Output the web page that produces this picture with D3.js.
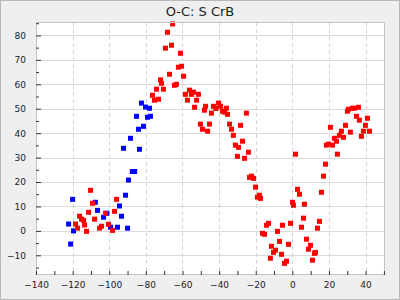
<!DOCTYPE html>
<html>
<head>
<meta charset="utf-8">
<script src="https://cdn.jsdelivr.net/npm/d3@7"></script>
<style>
  body { margin: 0; background: #efefef; }
  svg { display: block; }
  text { font-family: "DejaVu Sans", sans-serif; fill: #222; }
</style>
</head>
<body>
<div id="d3-container"></div>
<script>
/**
 * CONSTANTS AND GLOBALS
 * */
const width = 400,
    height = 300,
    margin = { top: 22, bottom: 25, left: 36, right: 15 },
    markerSize = 5;

const title = "O-C: S CrB";

// x tick labels every 20, minor ticks every 10
const xMajorTicks = [-140, -120, -100, -80, -60, -40, -20, 0, 20, 40];
const xMinorTicks = [-130, -110, -90, -70, -50, -30, -10, 10, 30, 50];
// y tick labels every 10, minor ticks every 5
const yMajorTicks = [-10, 0, 10, 20, 30, 40, 50, 60, 70, 80];
const yMinorTicks = [-15, -5, 5, 15, 25, 35, 45, 55, 65, 75, 85];

/**
 * DATA  ([epoch offset, O-C])
 * */
const blueOC = [
    [-87.4, 24.3], [-86.1, 24.3], [-89.5, 20.8], [-91.1, 14.6], [-94.4, 10.2],
    [-107.6, 11.7], [-120.0, 12.9], [-106.4, 8.4], [-93.3, 6.0], [-101.3, 7.2],
    [-103.1, 5.6], [-122.2, 2.8], [-119.5, 0.0], [-99.3, 1.5], [-95.5, 1.5],
    [-90.0, 1.1], [-121.1, -5.4], [-82.4, 52.3], [-80.2, 50.7], [-78.0, 50.2],
    [-85.1, 46.9], [-77.5, 46.9], [-79.1, 46.5], [-81.3, 42.8], [-84.0, 41.6],
    [-88.4, 37.9], [-92.2, 33.8], [-83.5, 33.4]
];

const redOC = [
    // early cluster
    [-110.2, 16.6], [-109.1, 11.3], [-96.0, 12.9], [-111.3, 7.6], [-97.1, 8.0],
    [-102.0, 7.2], [-116.2, 6.0], [-115.1, 4.8], [-114.0, 4.3], [-108.0, 4.8],
    [-113.5, 2.4], [-118.4, 2.8], [-117.3, 1.1], [-112.4, -0.2], [-105.3, 1.1],
    [-104.2, 1.9], [-100.4, 2.7], [-98.2, 0.2],
    // rising arm and peak
    [-72.0, 61.8], [-71.5, 60.4], [-74.2, 58.0], [-70.4, 58.0], [-64.4, 59.6],
    [-63.3, 60.0], [-76.4, 55.5], [-75.3, 53.5], [-73.1, 53.9], [-59.4, 63.3],
    [-65.4, 84.7], [-68.2, 81.3], [-66.0, 76.0], [-69.3, 74.8], [-61.1, 72.7],
    [-62.2, 67.0], [-60.5, 67.4], [-67.1, 64.1],
    // plateau
    [-58.4, 55.9], [-56.2, 57.6], [-55.1, 55.9], [-54.0, 56.8], [-51.3, 55.9],
    [-57.3, 53.5], [-52.3, 53.5], [-53.4, 50.6], [-47.4, 51.0], [-48.0, 49.4],
    [-44.2, 48.2], [-43.1, 51.0], [-41.7, 50.1], [-40.3, 52.3], [-39.2, 51.0],
    [-38.2, 49.0], [-37.1, 48.6], [-36.0, 50.2], [-35.4, 47.7],
    // falling arm
    [-25.1, 48.2], [-50.2, 43.7], [-45.3, 43.7], [-49.1, 41.6], [-46.3, 40.8],
    [-34.3, 43.7], [-28.3, 43.2], [-33.2, 41.6], [-32.2, 39.1], [-27.2, 36.7],
    [-31.1, 35.1], [-29.4, 34.2], [-24.0, 32.2], [-30.0, 30.5], [-26.1, 29.7],
    [-23.4, 21.9], [-22.3, 22.4], [-21.2, 21.5], [-20.1, 17.9], [-18.0, 14.6],
    [-19.1, 13.8], [-17.4, 13.3],
    // minimum
    [1.7, 31.4], [2.8, 17.0], [3.9, 15.0], [0.1, 11.7], [0.6, 10.5], [6.6, 10.9],
    [15.9, 15.8], [17.0, 22.4], [18.1, 27.3], [6.1, 5.2], [14.8, 3.9],
    [-13.0, 3.1], [-14.1, 2.3], [-5.4, 2.3], [-1.0, 3.1], [5.0, 1.5], [13.7, 1.1],
    [-8.1, -0.2], [-16.3, -1.0], [-15.2, -1.4],
    [-7.0, -4.3], [-2.1, -5.5], [-11.4, -6.3], [-9.2, -7.9], [-10.3, -8.8],
    [-5.9, -9.6], [-12.0, -11.2], [-3.2, -12.4], [-4.3, -13.3], [7.7, -3.4],
    [9.9, -5.9], [8.8, -7.5], [12.6, -8.8], [12.1, -9.2], [11.0, -12.0],
    // recovery
    [30.1, 49.0], [30.6, 49.8], [32.8, 50.2], [33.9, 50.2], [36.1, 50.6],
    [35.0, 46.9], [36.6, 45.3], [41.0, 46.1], [39.9, 43.2], [20.8, 42.4],
    [29.0, 43.2], [26.8, 40.8], [31.7, 40.4], [38.8, 40.8], [42.1, 40.8],
    [37.7, 38.7], [25.7, 39.1], [27.9, 38.3], [23.0, 37.9], [24.1, 36.7],
    [18.6, 35.1], [19.7, 35.5], [21.9, 35.1], [24.6, 31.4]
];

/**
 * DRAW
 * */
const svg = d3.select("#d3-container")
    .append("svg")
    .attr("width", width)
    .attr("height", height);

// outer frame
svg.append("rect")
    .attr("x", 0.5).attr("y", 0.5)
    .attr("width", width - 1).attr("height", height - 1)
    .attr("fill", "#efefef")
    .attr("stroke", "#b8b8b8");

const x = d3.scaleLinear()
    .domain([-140, 50.6])
    .range([margin.left, width - margin.right]);

const y = d3.scaleLinear()
    .domain([-18.06, 85.5])
    .range([height - margin.bottom, margin.top]);

// plot background
svg.append("rect")
    .attr("x", margin.left)
    .attr("y", margin.top)
    .attr("width", width - margin.left - margin.right)
    .attr("height", height - margin.top - margin.bottom)
    .attr("fill", "white");

// grid: solid horizontal, dashed vertical
svg.append("g")
    .selectAll("line")
    .data(yMajorTicks)
    .join("line")
    .attr("x1", margin.left).attr("x2", width - margin.right)
    .attr("y1", d => Math.round(y(d)) + 0.5).attr("y2", d => Math.round(y(d)) + 0.5)
    .attr("stroke", "#dcdcdc");

svg.append("g")
    .selectAll("line")
    .data(xMajorTicks.filter(d => d > -140))
    .join("line")
    .attr("x1", d => Math.round(x(d)) + 0.5).attr("x2", d => Math.round(x(d)) + 0.5)
    .attr("y1", margin.top).attr("y2", height - margin.bottom)
    .attr("stroke", "#d6d6d6")
    .attr("stroke-dasharray", "4,3");

// markers (blue first, red over it)
const drawSeries = (data, color) => {
    svg.append("g")
        .selectAll("rect")
        .data(data)
        .join("rect")
        .attr("x", d => x(d[0]) - markerSize / 2)
        .attr("y", d => y(d[1]) - markerSize / 2)
        .attr("width", markerSize)
        .attr("height", markerSize)
        .attr("fill", color);
};
drawSeries(blueOC, "#0000ff");
drawSeries(redOC, "#ff0000");

// plot border
svg.append("rect")
    .attr("x", margin.left + 0.5)
    .attr("y", margin.top + 0.5)
    .attr("width", width - margin.left - margin.right - 1)
    .attr("height", height - margin.top - margin.bottom - 1)
    .attr("fill", "none")
    .attr("stroke", "#c4c4c4");

// axes, ticks pointing into the plot
const xAxis = svg.append("g")
    .attr("transform", `translate(0,${height - margin.bottom})`)
    .call(d3.axisBottom(x).tickValues(xMajorTicks).tickSize(-4).tickPadding(7));
svg.append("g")
    .attr("transform", `translate(0,${height - margin.bottom})`)
    .call(d3.axisBottom(x).tickValues(xMinorTicks).tickSize(-4).tickFormat(""));

const yAxis = svg.append("g")
    .attr("transform", `translate(${margin.left},0)`)
    .call(d3.axisLeft(y).tickValues(yMajorTicks).tickSize(-5).tickPadding(10));
svg.append("g")
    .attr("transform", `translate(${margin.left},0)`)
    .call(d3.axisLeft(y).tickValues(yMinorTicks).tickSize(-3).tickFormat(""));

svg.selectAll(".domain").remove();
svg.selectAll(".tick line").attr("stroke", "#333");
svg.selectAll(".tick text")
    .attr("font-family", "DejaVu Sans")
    .attr("font-size", 9)
    .attr("fill", "#222");

// title
svg.append("text")
    .attr("x", width / 2)
    .attr("y", 16)
    .attr("text-anchor", "middle")
    .attr("font-size", 13)
    .text(title);
</script>
</body>
</html>
